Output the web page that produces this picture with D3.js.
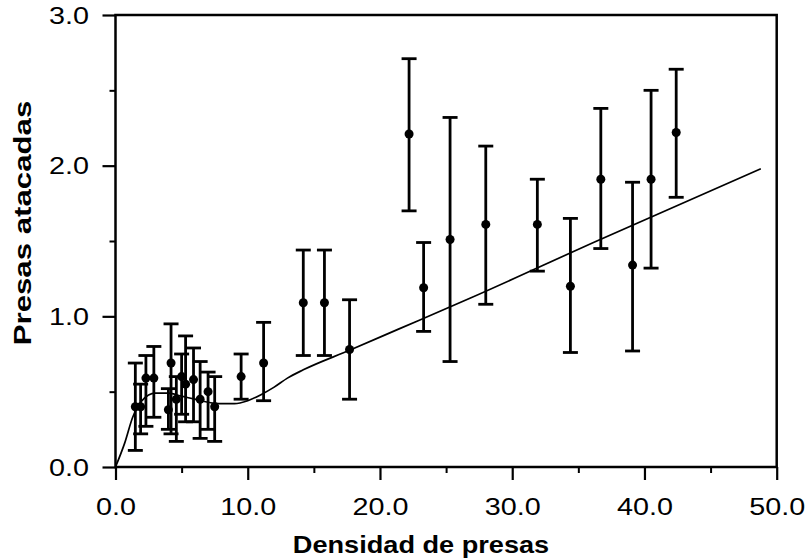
<!DOCTYPE html>
<html>
<head>
<meta charset="utf-8">
<script src="https://cdn.jsdelivr.net/npm/d3@7"></script>
<style>
  body { margin: 0; background: #fff; }
  svg { display: block; }
  text { font-family: "Liberation Sans", Arial, Helvetica, sans-serif; fill: #000; }
</style>
</head>
<body>
<div id="chart"></div>
<script>
const width = 809;
const height = 559;

// Datos: densidad, media, límite inferior, límite superior
const densidad = [1.5, 1.9, 2.3, 2.9, 4.0, 4.2, 4.6, 5.0, 5.3, 5.9, 6.4, 7.0, 7.5,
  9.5, 11.2, 14.2, 15.8, 17.7, 22.2, 23.3, 25.3, 28.0, 31.9, 34.4, 36.7, 39.1, 40.5, 42.4];
const media = [0.40, 0.40, 0.59, 0.59, 0.38, 0.69, 0.45, 0.60, 0.55, 0.58, 0.45, 0.50, 0.40,
  0.60, 0.69, 1.09, 1.09, 0.78, 2.21, 1.19, 1.51, 1.61, 1.61, 1.20, 1.91, 1.34, 1.91, 2.22];
const inferior = [0.11, 0.22, 0.27, 0.33, 0.25, 0.22, 0.17, 0.35, 0.30, 0.30, 0.19, 0.25, 0.17,
  0.45, 0.44, 0.74, 0.74, 0.45, 1.70, 0.90, 0.70, 1.08, 1.30, 0.76, 1.45, 0.77, 1.32, 1.79];
const superior = [0.69, 0.55, 0.74, 0.80, 0.52, 0.95, 0.60, 0.75, 0.87, 0.79, 0.70, 0.63, 0.60,
  0.75, 0.96, 1.44, 1.44, 1.11, 2.71, 1.49, 2.32, 2.13, 1.91, 1.65, 2.38, 1.89, 2.50, 2.64];

// Curva ajustada
const curvaX = [0, 0.7, 1.3, 2.0, 3.0, 4.0, 5.0, 6.0, 7.0, 8.0, 9.0, 10.0, 11.0, 12.0, 13.0, 14.2, 17.7, 21.4, 26.8, 36.4, 48.8];
const curvaY = [0, 0.16, 0.33, 0.44, 0.49, 0.49, 0.47, 0.45, 0.43, 0.42, 0.42, 0.44, 0.48, 0.53, 0.59, 0.645, 0.775, 0.915, 1.12, 1.50, 1.98];

const xMayor = [0, 10, 20, 30, 40, 50];
const xMenor = [5, 15, 25, 35, 45];
const yMayor = [0, 1, 2, 3];
const yMenor = [0.5, 1.5, 2.5];

const margin = { top: 15, right: 32.3, bottom: 92, left: 115.5 };
const iw = width - margin.left - margin.right;
const ih = height - margin.top - margin.bottom;

const svg = d3.select("#chart").append("svg")
  .attr("width", width)
  .attr("height", height);

const g = svg.append("g").attr("transform", `translate(${margin.left},${margin.top})`);

const x = d3.scaleLinear().domain([0, 50]).range([0, iw]);
const y = d3.scaleLinear().domain([0, 3]).range([ih, 0]);

// Ejes
const ejeX = g.append("g")
  .attr("transform", `translate(0,${ih})`)
  .call(d3.axisBottom(x).tickValues(xMayor).tickSize(13).tickFormat(d3.format(".1f")));
ejeX.select(".domain").remove();
ejeX.selectAll("line").attr("stroke-width", 2.2);
ejeX.selectAll("text")
  .attr("y", null).attr("dy", null)
  .attr("transform", "translate(0,48) scale(1.25,1)")
  .style("font-size", "23px");

g.append("g")
  .attr("transform", `translate(0,${ih})`)
  .call(d3.axisBottom(x).tickValues(xMenor).tickSize(6).tickFormat(""))
  .call(s => s.select(".domain").remove())
  .selectAll("line").attr("stroke-width", 2);

const ejeY = g.append("g")
  .call(d3.axisLeft(y).tickValues(yMayor).tickSize(13).tickFormat(d3.format(".1f")));
ejeY.select(".domain").remove();
ejeY.selectAll("line").attr("stroke-width", 2.2);
ejeY.selectAll("text")
  .attr("x", null).attr("dy", null)
  .attr("transform", "translate(-26.5,8) scale(1.25,1)")
  .style("font-size", "23px");

g.append("g")
  .call(d3.axisLeft(y).tickValues(yMenor).tickSize(6).tickFormat(""))
  .call(s => s.select(".domain").remove())
  .selectAll("line").attr("stroke-width", 2);

// Marco
g.append("rect")
  .attr("x", 0).attr("y", 0)
  .attr("width", iw).attr("height", ih)
  .attr("fill", "none")
  .attr("stroke", "#000")
  .attr("stroke-width", 2.5);

// Curva
const puntosCurva = curvaX.map((d, i) => [d, curvaY[i]]);
g.append("path")
  .datum(puntosCurva)
  .attr("fill", "none")
  .attr("stroke", "#000")
  .attr("stroke-width", 1.7)
  .attr("d", d3.line().x(d => x(d[0])).y(d => y(d[1])).curve(d3.curveMonotoneX));

// Barras de error
const datos = densidad.map((d, i) => ({ x: d, m: media[i], lo: inferior[i], hi: superior[i] }));
const cap = 7.5;
const barras = g.append("g").attr("stroke", "#000").attr("stroke-width", 2.8);
barras.selectAll(".v").data(datos).enter().append("line")
  .attr("x1", d => x(d.x)).attr("x2", d => x(d.x))
  .attr("y1", d => y(d.lo)).attr("y2", d => y(d.hi));
barras.selectAll(".t").data(datos).enter().append("line")
  .attr("x1", d => x(d.x) - cap).attr("x2", d => x(d.x) + cap)
  .attr("y1", d => y(d.hi)).attr("y2", d => y(d.hi));
barras.selectAll(".b").data(datos).enter().append("line")
  .attr("x1", d => x(d.x) - cap).attr("x2", d => x(d.x) + cap)
  .attr("y1", d => y(d.lo)).attr("y2", d => y(d.lo));

g.append("g").selectAll("circle").data(datos).enter().append("circle")
  .attr("cx", d => x(d.x))
  .attr("cy", d => y(d.m))
  .attr("r", 4.5)
  .attr("fill", "#000");

// Títulos de los ejes
svg.append("text")
  .attr("transform", "translate(421,553) scale(1.18,1)")
  .attr("text-anchor", "middle")
  .style("font-size", "23px")
  .style("font-weight", "bold")
  .text("Densidad de presas");

svg.append("text")
  .attr("transform", "translate(31,223) rotate(-90) scale(1.3,1)")
  .attr("text-anchor", "middle")
  .style("font-size", "24px")
  .style("font-weight", "bold")
  .text("Presas atacadas");
</script>
</body>
</html>
